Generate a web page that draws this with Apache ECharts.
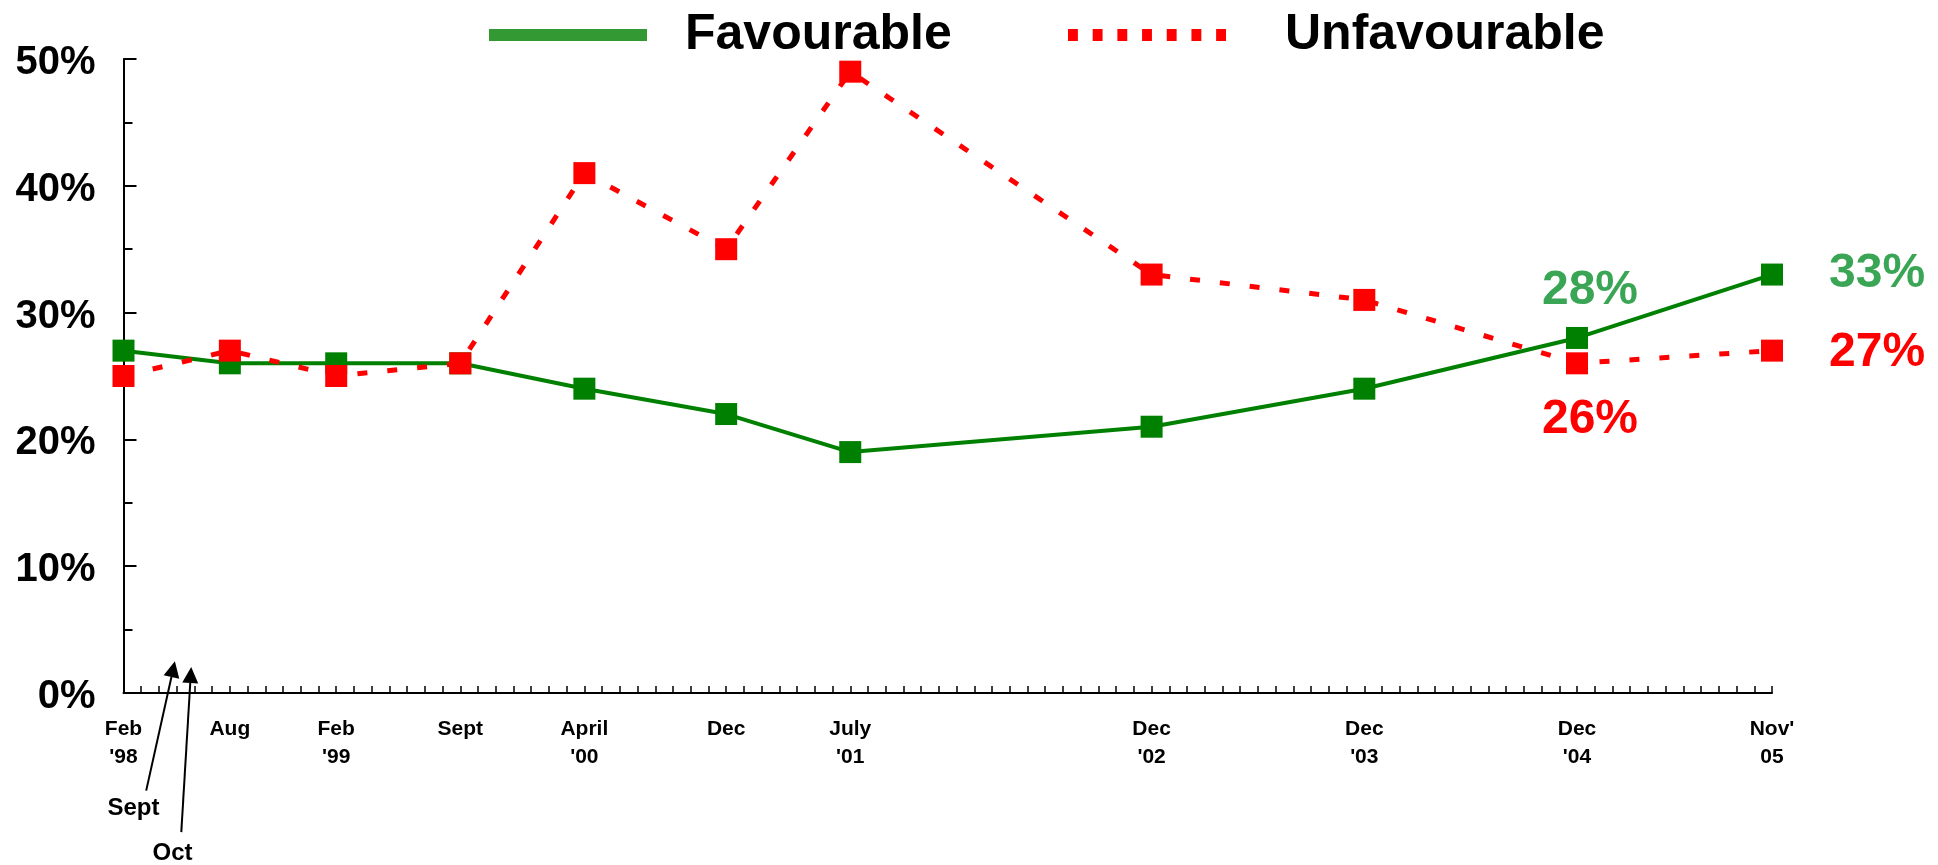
<!DOCTYPE html>
<html>
<head>
<meta charset="utf-8">
<script src="https://cdn.jsdelivr.net/npm/echarts@6/dist/echarts.min.js"></script>
<style>
html,body{margin:0;padding:0;background:#fff;}
#chart{width:1938px;height:865px;}
</style>
</head>
<body>
<div id="chart"></div>
<script>
// ---- data ----
const monthIndex = [0, 6, 12, 19, 26, 34, 41, 58, 70, 82, 93]; // months since Feb '98
const tickLabels = ["Feb\n'98", "Aug", "Feb\n'99", "Sept", "April\n'00", "Dec", "July\n'01", "Dec\n'02", "Dec\n'03", "Dec\n'04", "Nov'\n05"];
const favourable = [27, 26, 26, 26, 24, 22, 19, 21, 24, 28, 33];
const unfavourable = [25, 27, 25, 26, 41, 35, 49, 33, 31, 26, 27];
const seriesNames = ['Favourable', 'Unfavourable'];
const favLabelled = [9, 10];   // indices with value labels
const unfLabelled = [9, 10];
const annotationTexts = ['Sept', 'Oct'];

// ---- annotation geometry (data coords) ----
const annotationGeom = [
  { tip: [2.9, 2.5], tail: [1.28, -7.7], text: [0.56, -9.1] },
  { tip: [3.82, 2.05], tail: [3.26, -10.97], text: [2.77, -12.65] }
];

const FONT = "'Liberation Sans', Arial, sans-serif";
const GREEN = '#008000', RED = '#ff0000', LABEL_GREEN = '#3aa655';

const chart = echarts.init(document.getElementById('chart'), null, { renderer: 'canvas' });

function buildData(values, labelled, isFav) {
  return values.map((v, i) => {
    const item = { value: [monthIndex[i], v] };
    if (labelled.includes(i)) {
      const last = i === values.length - 1;
      item.label = {
        show: true,
        formatter: function (p) { return p.value[1] + '%'; },
        position: last ? 'right' : (isFav ? 'top' : 'bottom'),
        distance: last ? 46 : (isFav ? 12 : 21),
        offset: last ? [0, isFav ? -1 : 2] : [13, 0],
        color: isFav ? LABEL_GREEN : RED,
        fontFamily: FONT,
        fontWeight: 'bold',
        fontSize: 48
      };
    }
    return item;
  });
}

const dashPath = 'path://M0,0h10v12h-10z M25,0h10v12h-10z M50,0h10v12h-10z M75,0h10v12h-10z M100,0h10v12h-10z M125,0h10v12h-10z M150,0h10v12h-10z';

const option = {
  animation: false,
  backgroundColor: '#ffffff',
  grid: { left: 123.5, right: 166, top: 59, bottom: 172, containLabel: false },
  legend: [
    {
      left: 484, top: 5, itemWidth: 158, itemHeight: 12,
      data: [{ name: seriesNames[0], icon: 'rect', itemStyle: { color: '#339933' } }],
      textStyle: { fontFamily: FONT, fontWeight: 'bold', fontSize: 50, color: '#000', padding: [0, 0, 2, 33] }
    },
    {
      left: 1063, top: 5, itemWidth: 158, itemHeight: 12,
      data: [{ name: seriesNames[1], icon: dashPath, itemStyle: { color: RED } }],
      textStyle: { fontFamily: FONT, fontWeight: 'bold', fontSize: 50, color: '#000', padding: [0, 0, 2, 54] }
    }
  ],
  xAxis: {
    type: 'value', min: 0, max: monthIndex[monthIndex.length - 1], interval: 1,
    axisLine: { show: true, onZero: false, lineStyle: { color: '#000', width: 2 } },
    axisTick: { show: true, inside: true, length: 7, lineStyle: { color: '#000', width: 1.5 } },
    splitLine: { show: false },
    axisLabel: {
      show: true, margin: 22, lineHeight: 28,
      fontFamily: FONT, fontWeight: 'bold', fontSize: 21, color: '#000',
      showMinLabel: true, showMaxLabel: true,
      formatter: function (v) {
        const k = monthIndex.indexOf(Math.round(v));
        return k >= 0 ? tickLabels[k] : '';
      }
    }
  },
  yAxis: {
    type: 'value', min: 0, max: 50, interval: 10,
    axisLine: { show: true, lineStyle: { color: '#000', width: 2 } },
    axisTick: { show: true, inside: true, length: 13, lineStyle: { color: '#000', width: 2 } },
    minorTick: { show: true, splitNumber: 2, length: 9, lineStyle: { color: '#000', width: 2 } },
    splitLine: { show: false },
    axisLabel: {
      margin: 28,
      formatter: function (v) { return '{v|' + v + '%}'; },
      rich: { v: { padding: [8, 0, 0, 0], fontFamily: FONT, fontWeight: 'bold', fontSize: 40, color: '#000' } }
    }
  },
  series: [
    {
      name: seriesNames[0], type: 'line',
      data: buildData(favourable, favLabelled, true),
      symbol: 'rect', symbolSize: 22,
      itemStyle: { color: GREEN },
      lineStyle: { color: GREEN, width: 4 },
      label: { show: false }
    },
    {
      name: seriesNames[1], type: 'line',
      data: buildData(unfavourable, unfLabelled, false),
      symbol: 'rect', symbolSize: 22,
      itemStyle: { color: RED },
      lineStyle: { color: RED, width: 5, type: [10, 20] },
      label: { show: false }
    }
  ]
};
chart.setOption(option);

// ---- arrow annotations ----
const graphics = [];
annotationGeom.forEach((g, i) => {
  const tip = chart.convertToPixel({ gridIndex: 0 }, g.tip);
  const tail = chart.convertToPixel({ gridIndex: 0 }, g.tail);
  const txt = chart.convertToPixel({ gridIndex: 0 }, g.text);
  const dx = tip[0] - tail[0], dy = tip[1] - tail[1];
  const len = Math.sqrt(dx * dx + dy * dy);
  const ux = dx / len, uy = dy / len;
  const headLen = 16, headW = 8;
  const base = [tip[0] - ux * headLen, tip[1] - uy * headLen];
  graphics.push({
    type: 'line', silent: true,
    shape: { x1: tail[0], y1: tail[1], x2: base[0], y2: base[1] },
    style: { stroke: '#000', lineWidth: 2 }
  });
  graphics.push({
    type: 'polygon', silent: true,
    shape: { points: [tip, [base[0] - uy * headW, base[1] + ux * headW], [base[0] + uy * headW, base[1] - ux * headW]] },
    style: { fill: '#000' }
  });
  graphics.push({
    type: 'text', silent: true, x: txt[0], y: txt[1],
    style: { text: annotationTexts[i], fontFamily: FONT, fontWeight: 'bold', fontSize: 24, fill: '#000', align: 'center', verticalAlign: 'middle' }
  });
});
chart.setOption({ graphic: graphics });
</script>
</body>
</html>
